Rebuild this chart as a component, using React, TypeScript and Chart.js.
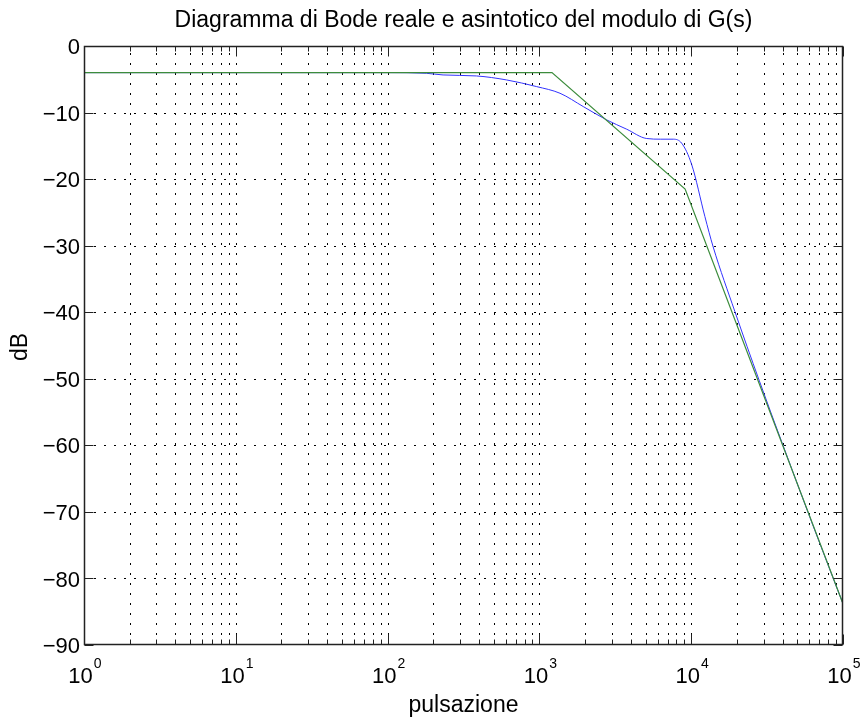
import React, { useEffect, useRef } from 'react';
import { Chart, registerables } from 'chart.js';

Chart.register(...registerables);

const TITLE = 'Diagramma di Bode reale e asintotico del modulo di G(s)';
const X_LABEL = 'pulsazione';
const Y_LABEL = 'dB';

// x axis: decades 10^0 .. 10^5 (log scale)
const X_DECADES = [0, 1, 2, 3, 4, 5];
const X_MINOR_MULT = [2, 3, 4, 5, 6, 7, 8, 9];
// y axis ticks (dB)
const Y_TICKS = [0, -10, -20, -30, -40, -50, -60, -70, -80, -90];

const REAL_W = [1, 10, 100, 180, 232, 385, 608, 959, 1367, 1945, 2773, 3758, 5085, 6300, 7620, 8650, 10070, 12300, 13960, 19400, 28000, 39800, 63100, 100000];
const REAL_DB = [-4, -4, -4, -4.1, -4.35, -4.5, -5.1, -6.1, -7.1, -9.1, -11.1, -12.5, -13.9, -14.0, -14.0, -14.6, -17.8, -25.6, -30.2, -39.9, -50.2, -59.7, -71.9, -83.8];

// asymptotic magnitude (rad/s, dB)
const ASYM_W = [1, 1210, 9120, 100000];
const ASYM_DB = [-4, -4, -21.5, -83.8];

const FONT = '"Liberation Sans", Arial, Helvetica, sans-serif';

const framePlugin = {
  id: 'bodeFrame',
  beforeDatasetsDraw(chart: any) {
    const { ctx, chartArea: a, scales } = chart;
    const xs = scales.x, ys = scales.y;
    ctx.save();
    ctx.strokeStyle = '#000';
    ctx.lineWidth = 1;
    ctx.setLineDash([2, 8]);
    // vertical grid
    for (let d = 0; d < 5; d++) {
      const vals = [Math.pow(10, d), ...X_MINOR_MULT.map((m) => m * Math.pow(10, d))];
      for (const v of vals) {
        if (v <= 1 || v >= 1e5) continue;
        const px = Math.round(xs.getPixelForValue(v)) + 0.5;
        ctx.beginPath();
        ctx.moveTo(px, a.bottom);
        ctx.lineTo(px, a.top);
        ctx.stroke();
      }
    }
    // horizontal grid
    for (const t of Y_TICKS) {
      if (t === 0 || t === -90) continue;
      const py = Math.round(ys.getPixelForValue(t)) + 0.5;
      ctx.beginPath();
      ctx.moveTo(a.left, py);
      ctx.lineTo(a.right, py);
      ctx.stroke();
    }
    ctx.restore();
  },
  afterDatasetsDraw(chart: any) {
    const { ctx, chartArea: a, scales } = chart;
    const xs = scales.x, ys = scales.y;
    ctx.save();
    ctx.setLineDash([]);
    ctx.strokeStyle = '#222';
    ctx.lineWidth = 1;
    const L = Math.round(a.left) + 0.5, R = Math.round(a.right) - 0.5;
    const T = Math.round(a.top) + 0.5, B = Math.round(a.bottom) - 0.5;
    // ticks x
    for (let d = 0; d <= 5; d++) {
      const major = Math.pow(10, d);
      const list: [number, number][] = [[major, 10]];
      if (d < 5) X_MINOR_MULT.forEach((m) => list.push([m * major, 5]));
      for (const [v, len] of list) {
        const px = Math.round(xs.getPixelForValue(v)) + 0.5;
        ctx.beginPath();
        ctx.moveTo(px, B);
        ctx.lineTo(px, B - len);
        ctx.moveTo(px, T);
        ctx.lineTo(px, T + len);
        ctx.stroke();
      }
    }
    // ticks y
    for (const t of Y_TICKS) {
      const py = Math.round(ys.getPixelForValue(t)) + 0.5;
      ctx.beginPath();
      ctx.moveTo(L, py);
      ctx.lineTo(L + 9, py);
      ctx.moveTo(R, py);
      ctx.lineTo(R - 9, py);
      ctx.stroke();
    }
    // frame
    ctx.lineWidth = 1.5;
    ctx.strokeRect(L, T, R - L, B - T);

    // labels
    ctx.fillStyle = '#000';
    // y tick labels
    ctx.font = `22px ${FONT}`;
    ctx.textAlign = 'right';
    ctx.textBaseline = 'middle';
    for (const t of Y_TICKS) {
      const py = ys.getPixelForValue(t) + 2;
      const txt = t < 0 ? '\u2212' + String(-t) : String(t);
      ctx.fillText(txt, a.left - 4, py);
    }
    // x tick labels with superscript exponent
    ctx.textBaseline = 'alphabetic';
    ctx.textAlign = 'left';
    for (const d of X_DECADES) {
      const px = xs.getPixelForValue(Math.pow(10, d));
      ctx.font = `22px ${FONT}`;
      const wb = ctx.measureText('10').width;
      ctx.font = `14px ${FONT}`;
      const we = ctx.measureText(String(d)).width;
      const total = wb + 1 + we;
      const x0 = px - total / 2 + 1;
      ctx.font = `22px ${FONT}`;
      ctx.fillText('10', x0, 683);
      ctx.font = `14px ${FONT}`;
      ctx.fillText(String(d), x0 + wb + 1, 668);
    }
    // axis titles
    ctx.font = `23px ${FONT}`;
    ctx.textAlign = 'center';
    ctx.fillText(X_LABEL, (a.left + a.right) / 2, 712);
    ctx.save();
    ctx.translate(21, 347);
    ctx.rotate(-Math.PI / 2);
    ctx.textBaseline = 'middle';
    ctx.fillText(Y_LABEL, 0, 0);
    ctx.restore();
    // title
    ctx.textBaseline = 'middle';
    ctx.fillText(TITLE, (a.left + a.right) / 2, 21);
    ctx.restore();
  },
};

export default function App() {
  const ref = useRef<HTMLCanvasElement | null>(null);
  useEffect(() => {
    if (!ref.current) return;
    const real = REAL_W.map((w, i) => ({ x: w, y: REAL_DB[i] }));
    const asym = ASYM_W.map((w, i) => ({ x: w, y: ASYM_DB[i] }));
    const chart = new Chart(ref.current, {
      type: 'line',
      data: {
        datasets: [
          {
            label: 'asintotico',
            data: asym,
            borderColor: 'rgb(60,140,60)',
            borderWidth: 1.2,
            pointRadius: 0,
            tension: 0,
            fill: false,
          },
          {
            label: 'reale',
            data: real,
            borderColor: 'rgb(50,50,255)',
            borderWidth: 1,
            pointRadius: 0,
            tension: 0.3,
            cubicInterpolationMode: 'monotone',
            fill: false,
          },
        ],
      },
      options: {
        responsive: false,
        animation: false,
        events: [],
        layout: { padding: { left: 84, right: 22, top: 46, bottom: 75 } },
        plugins: { legend: { display: false }, tooltip: { enabled: false }, title: { display: false } },
        scales: {
          x: {
            type: 'logarithmic',
            min: 1,
            max: 100000,
            grid: { display: false },
            border: { display: false },
            ticks: { display: false },
            afterFit: (s: any) => { s.height = 0; },
          },
          y: {
            type: 'linear',
            min: -90,
            max: 0,
            grid: { display: false },
            border: { display: false },
            ticks: { display: false },
            afterFit: (s: any) => { s.width = 0; },
          },
        },
      },
      plugins: [framePlugin],
    } as any);
    return () => chart.destroy();
  }, []);
  return (
    <div style={{ position: 'fixed', left: 0, top: 0, width: 865, height: 720, background: '#fff' }}>
      <canvas ref={ref} width={865} height={720} style={{ width: 865, height: 720, display: 'block' }} />
    </div>
  );
}
